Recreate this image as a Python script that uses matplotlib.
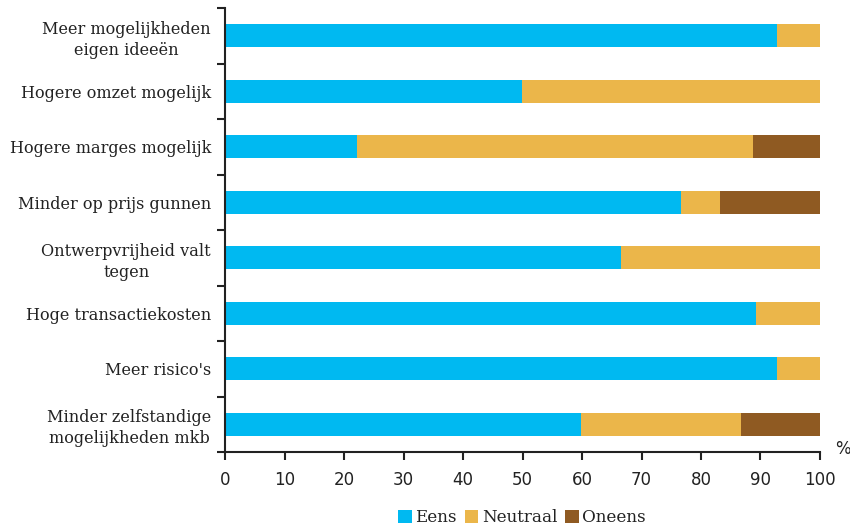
import numpy as np
import matplotlib.pyplot as plt
from matplotlib.patches import Patch

categories = ["Meer mogelijkheden\neigen ideeën", "Hogere omzet mogelijk", "Hogere marges mogelijk",
              "Minder op prijs gunnen", "Ontwerpvrijheid valt\ntegen", "Hoge transactiekosten",
              "Meer risico's", "Minder zelfstandige\nmogelijkheden mkb"]
eens = [92.8, 49.9, 22.2, 76.6, 66.6, 89.2, 92.8, 59.9]
neutraal = [7.2, 50.1, 66.5, 6.6, 33.4, 10.8, 7.2, 26.8]
oneens = [0.0, 0.0, 11.3, 16.8, 0.0, 0.0, 0.0, 13.3]
series = ["Eens", "Neutraal", "Oneens"]
colors = ["#00B9F1", "#EBB64A", "#8F5A22"]
xticks = [0, 10, 20, 30, 40, 50, 60, 70, 80, 90, 100]

serif = "DejaVu Serif"
txtcol = "#222222"

fig = plt.figure(figsize=(8.5, 5.29), dpi=100)
ax = fig.add_axes([225/850, 1-452/529, 595/850, 444/529])

y = np.arange(len(categories))
left = np.zeros(len(categories))
for vals, c in zip([eens, neutraal, oneens], colors):
    ax.barh(y, vals, left=left, height=0.42, color=c, linewidth=0)
    left = left + np.array(vals)

ax.set_xlim(0, 100)
ax.set_ylim(len(categories) - 0.5, -0.5)

# ticks between categories, labels at the centres
ax.set_yticks(np.arange(-0.5, len(categories)), labels=[])
ax.set_yticks(y, labels=categories, minor=True)
ax.tick_params(axis="y", which="major", length=6, width=1.5, color="#222222")
ax.tick_params(axis="y", which="minor", length=0, pad=10)
for lab in ax.get_yticklabels(minor=True):
    lab.set_fontfamily(serif)
    lab.set_fontsize(11.6)
    lab.set_color(txtcol)
    lab.set_horizontalalignment("right")
    lab.set_multialignment("center")
    lab.set_linespacing(1.3)

ax.set_xticks(xticks)
ax.tick_params(axis="x", length=6, width=1.5, color="#222222", labelsize=12, labelcolor=txtcol, pad=8)

for s in ["top", "right"]:
    ax.spines[s].set_visible(False)
for s in ["left", "bottom"]:
    ax.spines[s].set_linewidth(1.5)
    ax.spines[s].set_color("#222222")

fig.text(843/850, 1-449/529, "%", fontsize=12, color=txtcol, ha="center", va="center")

handles = [Patch(facecolor=c, edgecolor="none") for c in colors]
fig.legend(handles, series, loc="center", bbox_to_anchor=(522/850, 1-518/529), ncol=3, frameon=False,
           handlelength=0.8, handleheight=0.8, handletextpad=0.2, columnspacing=0.5,
           prop={"family": serif, "size": 12.1}, labelcolor=txtcol)

fig.savefig("out.png", dpi=100)
